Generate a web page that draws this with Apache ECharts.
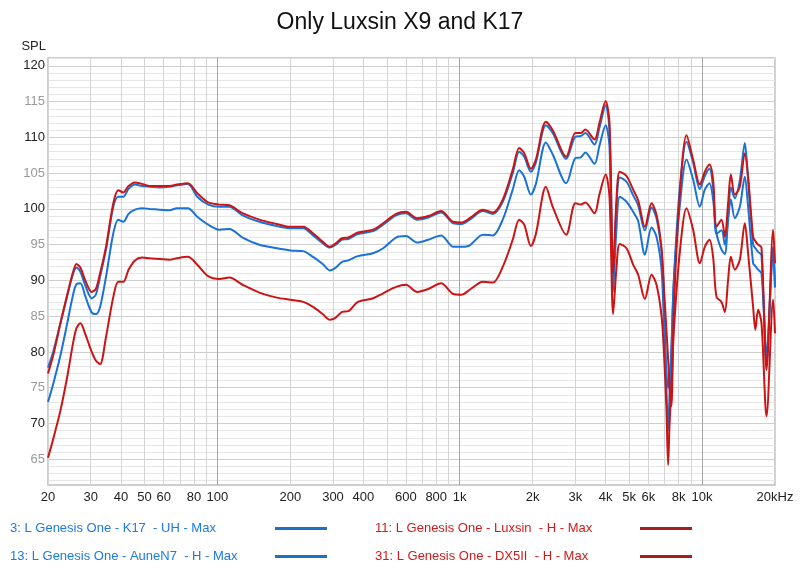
<!DOCTYPE html>
<html>
<head>
<meta charset="utf-8">
<title>Only Luxsin X9 and K17</title>
<script src="https://cdn.jsdelivr.net/npm/echarts@6/dist/echarts.min.js"></script>
<style>
  html, body { margin: 0; padding: 0; background: #fff; }
  #chart { width: 800px; height: 570px; }
</style>
</head>
<body>
<div id="chart"></div>
<script>
// frequency points (Hz), shared by all four traces
const freqs = [
  20, 21, 22.5, 24, 25.3, 26.2, 27.2, 28.5, 30.3, 31.5, 32.8, 34.7, 37.2, 39, 40.9, 43, 45.7, 48.8,
  52.7, 58, 63.5, 68, 75.5, 82.6, 91.6, 102, 112, 127, 149, 176, 200, 226, 248, 272, 291, 308,
  327, 347, 380, 439, 483, 546, 600, 666, 742, 838, 940, 1017, 1100, 1246, 1370, 1505, 1655,
  1760, 1846, 1966, 2062, 2268, 2420, 2750, 3000, 3160, 3300, 3600, 3770, 4000, 4150, 4296,
  4430, 4578, 4880, 5196, 5450, 5808, 6188, 6488, 6806, 6960, 7130, 7244, 7345, 7470, 7650,
  8098, 8630, 9186, 9794, 10266, 10730, 11106, 11470, 12030, 12418, 12812, 13146, 13652,
  14318, 15012, 15490, 16246, 16600, 17032, 17592, 18452, 19650, 20000
];

// SPL (dB) per trace
const k17 = [
  77.8, 80.0, 84.0, 87.8, 90.8, 91.8, 91.2, 89.3, 87.5, 88.0, 90.5, 94.3, 100.3, 101.7, 101.7, 102.8, 103.4, 103.2,
  103.1, 103.0, 103.1, 103.3, 103.5, 101.7, 100.6, 100.3, 100.3, 99.1, 98.2, 97.6, 97.3, 97.3, 96.3, 95.2, 94.6, 95.0,
  95.7, 95.8, 96.5, 96.9, 97.8, 99.1, 99.4, 98.5, 98.8, 99.5, 98.0, 97.9, 98.5, 99.7, 99.3, 101.0, 105.0,
  108.0, 107.3, 105.2, 106.5, 111.7, 110.6, 107.0, 110.1, 110.2, 110.6, 109.0, 111.3, 114.5, 111.0, 90.8,
  100.0, 104.4, 103.8, 101.9, 100.5, 97.0, 100.2, 98.7, 94.0, 88.0, 75.0, 69.0, 74.0, 80.0, 90.0,
  103.0, 109.4, 106.5, 102.8, 104.6, 105.6, 103.0, 96.5, 97.0, 95.0, 99.0, 103.0, 101.5,
  104.0, 109.2, 104.1, 95.0, 94.5, 94.0, 93.5, 78.4, 94.7, 89.1
];
const auneN7 = [
  73.0, 75.5, 79.5, 84.0, 87.8, 89.5, 89.6, 87.8, 85.5, 85.3, 86.3, 90.5, 96.6, 98.5, 98.2, 99.3, 99.9, 100.1,
  100.0, 99.9, 99.8, 100.1, 100.1, 98.9, 97.8, 97.1, 97.2, 96.0, 95.0, 94.5, 94.2, 94.1, 93.3, 92.3, 91.4, 91.8,
  92.6, 92.8, 93.4, 93.8, 94.5, 96.0, 96.2, 95.3, 95.7, 96.3, 94.7, 94.7, 94.9, 96.4, 96.3, 98.5, 102.7,
  105.4, 104.5, 102.0, 103.5, 109.3, 107.6, 103.6, 107.1, 107.2, 107.9, 106.3, 108.8, 111.7, 108.7, 88.5,
  97.0, 101.7, 101.0, 99.6, 98.3, 93.6, 97.4, 96.1, 91.5, 84.0, 77.0, 75.0, 76.5, 80.0, 90.0,
  100.5, 106.9, 104.1, 100.3, 102.7, 103.6, 101.3, 96.6, 94.3, 93.7, 98.5, 101.3, 98.7,
  100.3, 104.5, 100.3, 92.4, 92.0, 91.5, 91.0, 80.0, 94.0, 89.0
];
const luxsin = [
  77.0, 79.5, 84.0, 88.0, 91.0, 92.3, 91.8, 90.0, 88.4, 88.8, 91.0, 94.7, 100.8, 102.6, 102.3, 103.2, 103.7, 103.5,
  103.2, 103.2, 103.2, 103.4, 103.6, 102.2, 100.9, 100.6, 100.5, 99.4, 98.5, 97.9, 97.5, 97.5, 96.6, 95.4, 94.7, 95.2,
  95.9, 96.0, 96.7, 97.1, 98.0, 99.3, 99.6, 98.7, 99.0, 99.7, 98.2, 98.1, 98.7, 99.9, 99.5, 101.3, 105.5,
  108.5, 107.8, 105.6, 106.9, 112.2, 111.0, 107.3, 110.6, 110.6, 111.1, 109.7, 112.0, 115.1, 112.0, 91.0,
  101.0, 105.2, 104.6, 102.7, 101.2, 97.5, 100.8, 99.2, 94.5, 89.0, 83.0, 79.0, 75.0, 72.4, 86.0,
  102.2, 110.3, 106.9, 103.4, 105.2, 106.2, 104.1, 97.5, 98.5, 96.1, 100.8, 104.8, 102.0,
  103.1, 107.8, 104.5, 96.1, 95.5, 95.0, 94.6, 77.5, 97.1, 92.4
];
const dx5ii = [
  65.2, 67.8, 71.8, 76.5, 81.0, 83.3, 84.0, 82.5, 80.0, 78.8, 78.3, 82.1, 87.7, 89.8, 89.8, 91.5, 92.8, 93.2,
  93.1, 93.0, 92.9, 93.1, 93.3, 92.2, 90.6, 90.2, 90.4, 89.4, 88.3, 87.6, 87.3, 87.0, 86.3, 85.3, 84.5, 84.8,
  85.6, 85.7, 87.0, 87.5, 88.2, 89.1, 89.4, 88.4, 88.8, 89.6, 88.1, 88.0, 88.7, 89.8, 89.7, 91.9, 95.7,
  98.5, 97.8, 94.8, 96.5, 103.1, 100.3, 96.4, 100.8, 100.6, 100.9, 99.4, 102.0, 104.8, 101.7, 85.3,
  91.5, 95.1, 94.5, 92.2, 90.8, 87.4, 90.8, 89.4, 85.0, 80.0, 72.0, 64.2, 70.0, 75.0, 83.0,
  94.0, 100.1, 97.1, 92.4, 94.7, 95.7, 93.3, 87.7, 87.0, 85.6, 90.1, 93.3, 91.5,
  92.9, 98.0, 93.8, 86.3, 83.1, 85.9, 84.0, 71.0, 87.3, 82.6
];

const names = [
  '3: L Genesis One - K17  - UH - Max',
  '13: L Genesis One - AuneN7  - H - Max',
  '11: L Genesis One - Luxsin  - H - Max',
  '31: L Genesis One - DX5II  - H - Max'
];

// axis ticks
const freqGrid = [20, 30, 40, 50, 60, 70, 80, 90, 100, 200, 300, 400, 500, 600, 700, 800, 900,
  1000, 2000, 3000, 4000, 5000, 6000, 7000, 8000, 9000, 10000, 20000];
const freqMajor = [100, 1000, 10000];
const freqLabels = [20, 30, 40, 50, 60, 80, 100, 200, 300, 400, 600, 800, 1000, 2000, 3000,
  4000, 5000, 6000, 8000, 10000, 20000];
const splLabels = [65, 70, 75, 80, 85, 90, 95, 100, 105, 110, 115, 120];
const splGrid = [];
for (let v = 62; v <= 121; v++) splGrid.push(v);

const BLUE = '#1a72d6';
const RED = '#cc1414';
const FONT = '"Liberation Sans", Arial, Helvetica, sans-serif';
const X_MIN = 19.999, X_MAX = 20001, Y_MIN = 61.4, Y_MAX = 121.1;

function pairs(vals) {
  return freqs.map((f, i) => [f, vals[i]]);
}

function freqText(v) {
  const f = Math.round(v);
  if (f === 20000) return '20kHz';
  if (f >= 1000) return (f / 1000) + 'k';
  return String(f);
}

const chart = echarts.init(document.getElementById('chart'));

const legendBase = {
  orient: 'vertical',
  top: 517,
  itemGap: 15,
  itemWidth: 52,
  itemHeight: 3,
  icon: 'rect',
  align: 'right',
  selectedMode: false,
  textStyle: {
    rich: {
      b: { color: '#1c7ae2', fontSize: 13, fontFamily: FONT, width: 260, align: 'left', lineHeight: 16 },
      r: { color: '#d21a1a', fontSize: 13, fontFamily: FONT, width: 260, align: 'left', lineHeight: 16 }
    }
  }
};

chart.setOption({
  backgroundColor: '#fff',
  animation: false,
  title: {
    text: 'Only Luxsin X9 and K17',
    left: 'center',
    top: 6,
    textStyle: { fontSize: 23, fontWeight: 'normal', color: '#111', fontFamily: FONT }
  },
  grid: {
    left: 48, right: 25, top: 58, bottom: 85,
    show: true, borderColor: '#bdbdbd', borderWidth: 1.5, backgroundColor: 'transparent'
  },
  legend: [
    Object.assign({}, legendBase, {
      left: 5,
      formatter: n => '{b|' + n + '}',
      data: [
        { name: names[0], itemStyle: { color: '#1f6fc6' } },
        { name: names[1], itemStyle: { color: '#1f6fc6' } }
      ]
    }),
    Object.assign({}, legendBase, {
      left: 370,
      formatter: n => '{r|' + n + '}',
      data: [
        { name: names[2], itemStyle: { color: '#a81e1e' } },
        { name: names[3], itemStyle: { color: '#a81e1e' } }
      ]
    })
  ],
  xAxis: [
    {
      type: 'log', logBase: 10, min: X_MIN, max: X_MAX,
      axisLine: { show: false },
      axisTick: { show: false, customValues: freqGrid },
      splitLine: { show: true, lineStyle: { color: '#d4d4d4', width: 1 } },
      minorSplitLine: { show: false },
      axisLabel: {
        customValues: freqLabels, margin: 6, color: '#222', fontSize: 13, fontFamily: FONT,
        formatter: freqText
      }
    },
    {
      type: 'log', logBase: 10, min: X_MIN, max: X_MAX, position: 'top',
      axisLine: { show: false },
      axisTick: { show: false, customValues: freqMajor },
      axisLabel: { show: false },
      splitLine: { show: true, lineStyle: { color: '#a6a6a6', width: 1 } }
    }
  ],
  yAxis: [
    {
      type: 'value', min: Y_MIN, max: Y_MAX,
      name: 'SPL', nameLocation: 'end', nameGap: 5,
      nameTextStyle: { color: '#222', fontSize: 13, fontFamily: FONT, align: 'right', padding: [0, 2, 0, 0] },
      axisLine: { show: false },
      axisTick: { show: false, customValues: splGrid },
      splitLine: { show: true, lineStyle: { color: '#e6e6e6', width: 1 } },
      axisLabel: {
        customValues: splLabels, margin: 3, fontSize: 13, fontFamily: FONT,
        formatter: v => (Math.round(v) % 10 === 0 ? '{k|' : '{g|') + Math.round(v) + '}',
        rich: {
          k: { color: '#222', fontSize: 13, fontFamily: FONT },
          g: { color: '#999', fontSize: 13, fontFamily: FONT }
        }
      }
    },
    {
      type: 'value', min: Y_MIN, max: Y_MAX, position: 'left',
      axisLine: { show: false },
      axisTick: { show: false, customValues: splLabels },
      axisLabel: { show: false },
      splitLine: { show: true, lineStyle: { color: '#cfcfcf', width: 1 } }
    }
  ],
  series: [
    { name: names[0], vals: k17, color: BLUE },
    { name: names[1], vals: auneN7, color: BLUE },
    { name: names[2], vals: luxsin, color: RED },
    { name: names[3], vals: dx5ii, color: RED }
  ].map(s => ({
    name: s.name,
    type: 'line',
    xAxisIndex: 0,
    yAxisIndex: 0,
    data: pairs(s.vals),
    showSymbol: false,
    symbol: 'none',
    smooth: 0.3,
    color: s.color,
    lineStyle: { color: s.color, width: 2 },
    emphasis: { disabled: true }
  }))
});
</script>
</body>
</html>
